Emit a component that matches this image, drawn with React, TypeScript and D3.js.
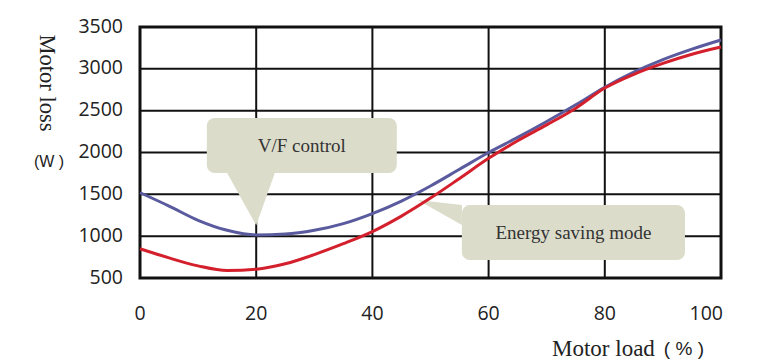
import React, { useRef, useEffect } from 'react';
import * as d3 from 'd3';

// motor load (%) sampled every 5%
const loads = [0, 5, 10, 15, 20, 25, 30, 35, 40, 45, 50, 55, 60, 65, 70, 75, 80, 85, 90, 95, 100];
// motor loss (W), V/F control
const vfLoss = [1520, 1360, 1190, 1070, 1015, 1025, 1070, 1150, 1270, 1420, 1600, 1800, 2000, 2180, 2370, 2570, 2780, 2960, 3110, 3235, 3345];
// motor loss (W), energy saving mode
const esLoss = [850, 740, 645, 590, 605, 670, 780, 910, 1055, 1240, 1455, 1690, 1930, 2140, 2330, 2530, 2770, 2935, 3065, 3175, 3260];

const yTicks = [500, 1000, 1500, 2000, 2500, 3000, 3500];
const xTicks = [0, 20, 40, 60, 80, 100];

// callouts in data units: box corners and pointer
const callouts = [
  { text: 'V/F control', box: [11.5, 44.2, 2412, 1755], pointer: [[15, 1755], [20, 1130], [23.2, 1755]] },
  { text: 'Energy saving mode', box: [55.4, 93.8, 1372, 715], pointer: [[55.4, 1372], [47.8, 1432], [55.4, 1133]] },
];

const App = () => {
  const svgRef = useRef(null);

  useEffect(() => {
    const svg = d3.select(svgRef.current);
    svg.selectAll('*').remove();

    const x = d3.scaleLinear().domain([0, 100]).range([140, 721]);
    const y = d3.scaleLinear().domain([500, 3500]).range([278, 27]);

    // grid
    svg.append('g')
      .selectAll('line.h')
      .data(yTicks)
      .enter()
      .append('line')
      .attr('x1', x(0)).attr('x2', x(100))
      .attr('y1', (d) => y(d)).attr('y2', (d) => y(d))
      .attr('stroke', '#111').attr('stroke-width', 2);

    svg.append('g')
      .selectAll('line.v')
      .data(xTicks)
      .enter()
      .append('line')
      .attr('x1', (d) => x(d)).attr('x2', (d) => x(d))
      .attr('y1', y(500)).attr('y2', y(3500))
      .attr('stroke', '#111').attr('stroke-width', 2);

    // callouts
    callouts.forEach((c) => {
      const g = svg.append('g');
      const [x0, x1, yt, yb] = c.box;
      g.append('rect')
        .attr('x', x(x0)).attr('y', y(yt))
        .attr('width', x(x1) - x(x0)).attr('height', y(yb) - y(yt))
        .attr('rx', 8)
        .attr('fill', '#dcdccb');
      g.append('path')
        .attr('d', d3.line()(c.pointer.map((p) => [x(p[0]), y(p[1])])) + 'Z')
        .attr('fill', '#dcdccb');
      g.append('text')
        .attr('x', (x(x0) + x(x1)) / 2)
        .attr('y', (y(yt) + y(yb)) / 2)
        .attr('text-anchor', 'middle')
        .attr('dominant-baseline', 'central')
        .attr('font-family', '"Liberation Serif", serif')
        .attr('font-size', 19)
        .attr('fill', '#333')
        .text(c.text);
    });

    // frame
    svg.append('rect')
      .attr('x', x(0)).attr('y', y(3500))
      .attr('width', x(100) - x(0)).attr('height', y(500) - y(3500))
      .attr('fill', 'none').attr('stroke', '#111').attr('stroke-width', 3);

    const line = d3.line()
      .x((d) => x(d[0]))
      .y((d) => y(d[1]))
      .curve(d3.curveMonotoneX);

    svg.append('path')
      .datum(loads.map((l, i) => [l, vfLoss[i]]))
      .attr('d', line)
      .attr('fill', 'none')
      .attr('stroke', '#5a5a9e')
      .attr('stroke-width', 3);

    svg.append('path')
      .datum(loads.map((l, i) => [l, esLoss[i]]))
      .attr('d', line)
      .attr('fill', 'none')
      .attr('stroke', '#d3202c')
      .attr('stroke-width', 3);

    // tick labels
    svg.append('g')
      .selectAll('text')
      .data(yTicks)
      .enter()
      .append('text')
      .attr('x', 123)
      .attr('y', (d) => y(d) - 2)
      .attr('text-anchor', 'end')
      .attr('dominant-baseline', 'central')
      .attr('font-family', '"Open Sans", sans-serif')
      .attr('font-size', 19.5)
      .attr('fill', '#222')
      .text((d) => d);

    svg.append('g')
      .selectAll('text')
      .data(xTicks)
      .enter()
      .append('text')
      .attr('x', (d, i) => (i === xTicks.length - 1 ? x(d) + 2 : x(d)))
      .attr('y', 312)
      .attr('text-anchor', (d, i) => (i === xTicks.length - 1 ? 'end' : 'middle'))
      .attr('dominant-baseline', 'central')
      .attr('font-family', '"Open Sans", sans-serif')
      .attr('font-size', 19.5)
      .attr('fill', '#222')
      .text((d) => d);

    // axis titles
    svg.append('text')
      .attr('transform', 'translate(47,83) rotate(90)')
      .attr('text-anchor', 'middle')
      .attr('dominant-baseline', 'central')
      .attr('font-family', '"Liberation Serif", serif')
      .attr('font-size', 22.5)
      .attr('fill', '#222')
      .text('Motor loss');

    svg.append('text')
      .attr('x', 49)
      .attr('y', 161)
      .attr('text-anchor', 'middle')
      .attr('dominant-baseline', 'central')
      .attr('font-family', '"Liberation Sans", sans-serif')
      .attr('font-size', 16)
      .attr('fill', '#222')
      .text('(W )');

    const xt = svg.append('text')
      .attr('x', 552)
      .attr('y', 348)
      .attr('dominant-baseline', 'central')
      .attr('font-family', '"Liberation Serif", serif')
      .attr('font-size', 23)
      .attr('fill', '#222');
    xt.append('tspan').text('Motor load');
    xt.append('tspan')
      .attr('dx', 9)
      .attr('font-family', '"Liberation Sans", sans-serif')
      .attr('font-size', 19)
      .text('( % )');
  }, []);

  return (
    <div style={{ position: 'absolute', left: 0, top: 0 }}>
      <svg ref={svgRef} width={780} height={364} style={{ display: 'block', background: '#fff' }}></svg>
    </div>
  );
};

export default App;
